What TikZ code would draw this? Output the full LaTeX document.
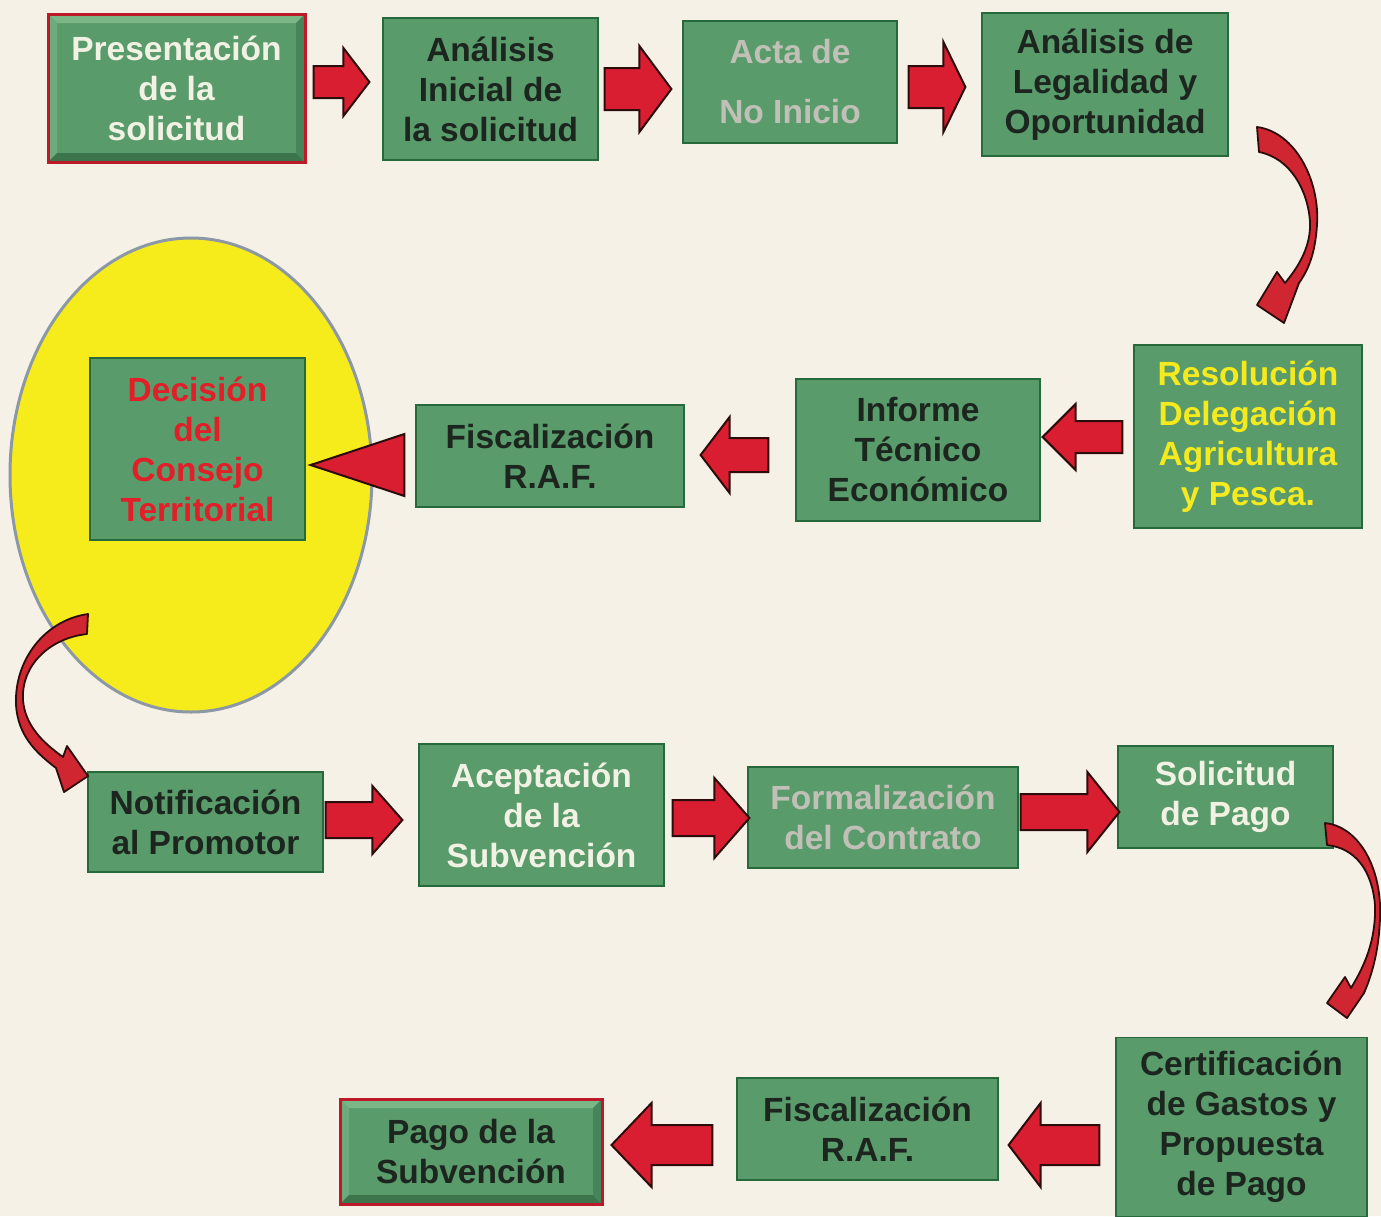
\documentclass[tikz,border=0pt]{standalone}
\usepackage{fontspec}
\setmainfont{Liberation Sans}
\usetikzlibrary{calc,shapes.geometric}
\definecolor{bg}{RGB}{245,241,230}
\definecolor{boxgreen}{RGB}{90,155,108}
\definecolor{boxedge}{RGB}{38,105,58}
\definecolor{boxlight}{RGB}{122,182,134}
\definecolor{boxdark}{RGB}{60,116,76}
\definecolor{bevred}{RGB}{190,25,40}
\definecolor{arrowred}{RGB}{218,30,50}
\definecolor{arrowedge}{RGB}{45,12,12}
\definecolor{curvered}{RGB}{208,38,50}
\definecolor{ellfill}{RGB}{246,236,28}
\definecolor{elledge}{RGB}{140,152,165}
\definecolor{txtdark}{RGB}{28,38,30}
\definecolor{txtlight}{RGB}{242,242,228}
\definecolor{txtgray}{RGB}{192,192,182}
\definecolor{txtyellow}{RGB}{245,234,30}
\definecolor{txtred}{RGB}{226,30,40}
\tikzset{
  stepbox/.style={rectangle, fill=boxgreen, draw=boxedge, line width=1.2pt,
    align=center, inner sep=0pt, text=txtdark,
    font=\fontsize{33.5}{40}\selectfont\bfseries},
  bevelbox/.style={draw=bevred, line width=3pt, path picture={
    \fill[boxlight] (path picture bounding box.north west) -- (path picture bounding box.north east)
      -- ($(path picture bounding box.north east)+(-9,9)$) -- ($(path picture bounding box.north west)+(9,9)$) -- cycle;
    \fill[boxlight!60!boxgreen] (path picture bounding box.north west) -- ($(path picture bounding box.north west)+(9,9)$)
      -- ($(path picture bounding box.south west)+(9,-9)$) -- (path picture bounding box.south west) -- cycle;
    \fill[boxdark] (path picture bounding box.south west) -- (path picture bounding box.south east)
      -- ($(path picture bounding box.south east)+(-9,-9)$) -- ($(path picture bounding box.south west)+(9,-9)$) -- cycle;
    \fill[boxdark!60!boxgreen] (path picture bounding box.north east) -- ($(path picture bounding box.north east)+(-9,9)$)
      -- ($(path picture bounding box.south east)+(-9,-9)$) -- (path picture bounding box.south east) -- cycle;
  }},
  blockarrow/.style={fill=arrowred, draw=arrowedge, line width=2pt, line join=miter},
  curvearrow/.style={fill=curvered, draw=arrowedge, line width=1.8pt, line join=round},
}
% start, tip, shaft half width, head half width, head length
\newcommand\barrow[5]{%
  \coordinate (bs) at #1;
  \coordinate (bt) at #2;
  \coordinate (bb) at ($(bt)!#5pt!(bs)$);
  \filldraw[blockarrow] ($(bs)!#3pt!90:(bt)$) -- ($(bb)!#3pt!90:(bt)$) -- ($(bb)!#4pt!90:(bt)$)
    -- (bt) -- ($(bb)!#4pt!-90:(bt)$) -- ($(bb)!#3pt!-90:(bt)$) -- ($(bs)!#3pt!-90:(bt)$) -- cycle;
}
\begin{document}
\begin{tikzpicture}[x=1pt,y=-1pt]
\fill[bg] (0,0) rectangle (1381,1216);
\useasboundingbox (0,0) rectangle (1381,1216);

% council ellipse
\node[ellipse, fill=ellfill, draw=elledge, line width=3pt, minimum width=362pt, minimum height=474pt, inner sep=0pt] (council) at (191,475) {};

% row 1
\node[stepbox, bevelbox, minimum width=257pt, minimum height=148pt, text=txtlight] (p1) at (176.5,88) {Presentación\\de la\\solicitud};
\node[stepbox, minimum width=215pt, minimum height=142pt] (p2) at (490.5,89) {Análisis\\Inicial de\\la solicitud};
\node[stepbox, minimum width=214pt, minimum height=122pt, text=txtgray, font=\fontsize{33.5}{60}\selectfont\bfseries] (p3) at (790,82) {Acta de\\No Inicio};
\node[stepbox, minimum width=246pt, minimum height=143pt] (p4) at (1105,84.5) {Análisis de\\Legalidad y\\Oportunidad};

% row 2
\node[stepbox, minimum width=228pt, minimum height=183pt, text=txtyellow] (p5) at (1248,436.5) {Resolución\\Delegación\\Agricultura\\y Pesca.};
\node[stepbox, minimum width=244pt, minimum height=142pt] (p6) at (918,450) {Informe\\Técnico\\Económico};
\node[stepbox, minimum width=268pt, minimum height=102pt] (p7) at (550,456) {Fiscalización\\R.A.F.};
\node[stepbox, minimum width=215pt, minimum height=182pt, text=txtred] (p8) at (197.5,449) {Decisión\\del\\Consejo\\Territorial};

% row 3
\node[stepbox, minimum width=235pt, minimum height=100pt] (p9) at (205.5,822) {Notificación\\al Promotor};
\node[stepbox, minimum width=245pt, minimum height=142pt, text=txtlight] (p10) at (541.5,815) {Aceptación\\de la\\Subvención};
\node[stepbox, minimum width=270pt, minimum height=101pt, text=txtgray] (p11) at (883,817.5) {Formalización\\del Contrato};
\node[stepbox, minimum width=215pt, minimum height=102pt, text=txtlight] (p12) at (1225.5,797) {Solicitud\\de Pago};

% row 4
\node[stepbox, minimum width=251pt, minimum height=179pt] (p13) at (1241.5,1127) {Certificación\\de Gastos y\\Propuesta\\de Pago};
\node[stepbox, minimum width=261pt, minimum height=102pt] (p14) at (867.5,1129) {Fiscalización\\R.A.F.};
\node[stepbox, bevelbox, minimum width=262pt, minimum height=105pt] (p15) at (471,1151.5) {Pago de la\\Subvención};

% straight block arrows
\barrow{($(p1.east)+(7,-6)$)}{($(p2.west)+(-13,-7)$)}{16}{34}{26}
\barrow{($(p2.east)+(6,0)$)}{($(p3.west)+(-11,7)$)}{21}{43}{32}
\barrow{($(p3.east)+(11,5)$)}{($(p4.west)+(-16,2.5)$)}{21}{45}{22}
\barrow{($(p5.west)+(-11,0.5)$)}{($(p6.east)+(2,-13)$)}{16}{33}{33}
\barrow{($(p6.west)+(-27,5)$)}{($(p7.east)+(16,-1)$)}{17}{38}{29}
\filldraw[blockarrow] ($(p7.west)+(-11,-22)$) -- ($(p8.east)+(5,16)$) -- ($(p7.west)+(-11,40)$) -- cycle;
\barrow{($(p9.east)+(2,-2)$)}{($(p10.west)+(-16,5)$)}{18}{34}{30}
\barrow{($(p10.east)+(8,3)$)}{($(p11.west)+(2,0.5)$)}{18}{40}{35}
\barrow{($(p11.east)+(2,-5.5)$)}{($(p12.west)+(2,15)$)}{18}{40}{32}
\barrow{($(p13.west)+(-16,18)$)}{($(p14.east)+(10,16)$)}{20}{42}{32}
\barrow{($(p14.west)+(-24,16)$)}{($(p15.east)+(8,-6.5)$)}{20}{42}{40}

% curved arrows
\filldraw[curvearrow] (1257,127) .. controls (1295,132) and (1320,180) .. (1317,225)
  .. controls (1315,255) and (1308,270) .. (1299,283) -- (1284,323) -- (1257,305) -- (1277,272) -- (1285,283)
  .. controls (1300,265) and (1311,245) .. (1310,222) .. controls (1308,190) and (1290,158) .. (1259,152) -- cycle;
\filldraw[curvearrow] (88,614) .. controls (45,620) and (14,660) .. (16,705)
  .. controls (18,735) and (35,752) .. (56,768) -- (64,792) -- (88,776) -- (67,746) -- (63,757)
  .. controls (42,742) and (25,725) .. (23,700) .. controls (21,665) and (50,638) .. (87,634) -- cycle;
\filldraw[curvearrow] (1325,823) .. controls (1355,826) and (1378,860) .. (1380,905)
  .. controls (1381,945) and (1372,975) .. (1364,993) -- (1347,1018) -- (1327,1003) -- (1345,977) -- (1351,988)
  .. controls (1365,965) and (1376,940) .. (1375,905) .. controls (1372,870) and (1355,848) .. (1327,845) -- cycle;
\end{tikzpicture}
\end{document}
